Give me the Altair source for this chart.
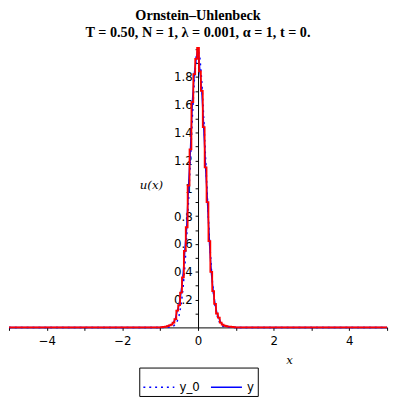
import altair as alt
import pandas as pd

# smooth reference curve y_0
x0 = [-5.0, -1.2, -1.1, -1.0, -0.9, -0.8, -0.75, -0.7, -0.65, -0.6, -0.55, -0.5, -0.45, -0.4, -0.35,
      -0.3, -0.25, -0.2, -0.15, -0.1, -0.05, 0.0, 0.05, 0.1, 0.15, 0.2, 0.25, 0.3, 0.35, 0.4,
      0.45, 0.5, 0.55, 0.6, 0.65, 0.7, 0.75, 0.8, 0.9, 1.0, 1.1, 1.2, 5.0]
y0 = [0.0, 0.0, 0.0, 0.0, 0.0, 0.0007, 0.0017, 0.0044, 0.010, 0.022, 0.046, 0.088, 0.159, 0.271, 0.432,
      0.649, 0.916, 1.213, 1.510, 1.765, 1.938, 2.0, 1.938, 1.765, 1.510, 1.213, 0.916, 0.649, 0.432, 0.271,
      0.159, 0.088, 0.046, 0.022, 0.010, 0.0044, 0.0017, 0.0007, 0.0, 0.0, 0.0, 0.0, 0.0]

# jagged numerical solution y
xs = [-5.0, -1.0, -0.95, -0.9, -0.85, -0.8, -0.75, -0.7, -0.65, -0.6, -0.55, -0.5, -0.45, -0.4, -0.35,
      -0.3, -0.25, -0.2, -0.15, -0.1, -0.05, 0.0, 0.05, 0.1, 0.15, 0.2, 0.25, 0.3, 0.35, 0.4,
      0.45, 0.5, 0.55, 0.6, 0.65, 0.7, 0.75, 0.8, 0.85, 0.9, 0.95, 1.0, 5.0]
ys = [0.0, 0.0, 0.002, 0.004, 0.006, 0.01, 0.015, 0.02, 0.035, 0.06, 0.12, 0.16, 0.25, 0.36, 0.55,
      0.72, 1.02, 1.28, 1.62, 1.82, 1.93, 2.01, 1.84, 1.70, 1.44, 1.15, 0.90, 0.62, 0.40, 0.26,
      0.17, 0.10, 0.07, 0.035, 0.02, 0.012, 0.01, 0.006, 0.005, 0.004, 0.002, 0.0, 0.0]

x_ticks = [-5, -4, -3, -2, -1, 0, 1, 2, 3, 4, 5]
y_ticks = [0.1, 0.2, 0.3, 0.4, 0.5, 0.6, 0.7, 0.8, 0.9, 1.0, 1.1, 1.2, 1.3, 1.4, 1.5, 1.6, 1.7, 1.8, 1.9, 2.0]
series_names = ["y_0", "y"]

W, H = 386, 284

df_lines = pd.concat([
    pd.DataFrame({"x": x0, "v": y0, "series": "y_0", "ord": range(len(x0))}),
    pd.DataFrame({"x": xs, "v": ys, "series": "y", "ord": range(len(xs))}),
])
df_red = pd.DataFrame({"x": xs, "v": ys})

xscale = alt.Scale(domain=[-5, 5], nice=False, zero=False)
yscale = alt.Scale(domain=[0, 2.0], nice=False)

xaxis = alt.Axis(values=x_ticks, format="d",
                 labelExpr="datum.value % 2 == 0 ? datum.label : ''",
                 grid=False, domainColor="black", tickColor="black", tickSize=3, labelPadding=5,
                 labelFont="DejaVu Sans", labelFontSize=12, labelColor="black", labelFlush=False,
                 labelOverlap=False,
                 title="x", titleFont="DejaVu Serif", titleFontStyle="italic", titleFontWeight="normal",
                 titleFontSize=12, titleX=286, titleY=28, titleColor="black")
yaxis = alt.Axis(values=y_ticks, format=".1~f",
                 labelExpr="(round(datum.value*10) % 2 == 0 && datum.value < 1.95) ? datum.label : ''",
                 grid=False, domainColor="black", tickColor="black", tickSize=3, labelPadding=3,
                 labelFont="DejaVu Sans", labelFontSize=12, labelColor="black", offset=-W / 2,
                 labelOverlap=False,
                 title="u(x)", titleAngle=0, titleFont="DejaVu Serif", titleFontStyle="italic",
                 titleFontWeight="normal", titleFontSize=12, titleX=-60, titleY=145, titleAlign="left",
                 titleColor="black")

lines = alt.Chart(df_lines).mark_line(strokeWidth=1.5).encode(
    x=alt.X("x:Q", scale=xscale, axis=xaxis),
    y=alt.Y("v:Q", scale=yscale, axis=yaxis),
    color=alt.Color("series:N", scale=alt.Scale(domain=series_names, range=["#0000ff", "#0000ff"]), title=None),
    strokeDash=alt.StrokeDash("series:N", scale=alt.Scale(domain=series_names, range=[[2, 4], [1, 0]]), title=None),
    order="ord:Q",
)

red = alt.Chart(df_red).mark_line(color="#ff0000", strokeWidth=1.8, interpolate="step").encode(
    x=alt.X("x:Q", scale=xscale, axis=xaxis),
    y=alt.Y("v:Q", scale=yscale, axis=yaxis),
)

chart = alt.layer(lines, red).properties(
    width=W, height=H,
    autosize=alt.AutoSizeParams(type="none"),
    padding={"left": 1, "top": 38, "right": 5, "bottom": 68},
    title=alt.Title(text=["Ornstein–Uhlenbeck", "T = 0.50, N = 1, λ = 0.001, α = 1, t = 0."],
                    font="Liberation Serif", fontSize=14.5, fontWeight="bold", anchor="middle",
                    offset=3, lineHeight=17, color="black"),
).configure_view(stroke=None).configure_legend(
    orient="none", legendX=133, legendY=325, direction="horizontal",
    strokeColor="black", fillColor="white", padding=3, cornerRadius=0,
    symbolType="stroke", symbolSize=1000, symbolStrokeWidth=1.5,
    labelFont="DejaVu Sans", labelFontSize=12, labelColor="black", columnPadding=8,
)

chart.save("out.html", embed_options={"renderer": "svg", "actions": False})
